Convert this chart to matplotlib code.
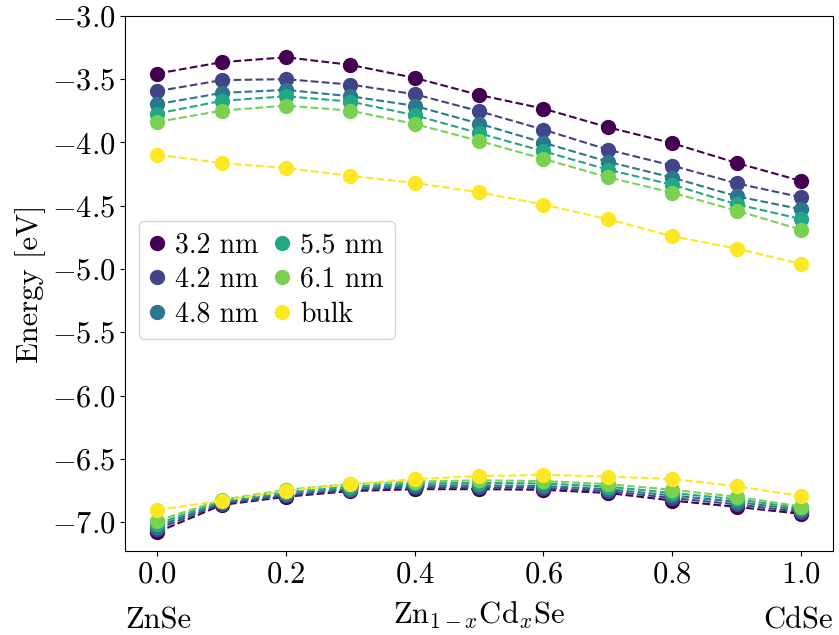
import numpy as np
import matplotlib
matplotlib.use("Agg")
import matplotlib.pyplot as plt

plt.rcParams['font.family'] = 'serif'
plt.rcParams['font.serif'] = ['cmr10']
plt.rcParams['mathtext.fontset'] = 'cm'
plt.rcParams['axes.formatter.use_mathtext'] = True
plt.rcParams['font.size'] = 22

x = [0.0, 0.1, 0.2, 0.3, 0.4, 0.5, 0.6, 0.7, 0.8, 0.9, 1.0]
labels = ['3.2 nm', '4.2 nm', '4.8 nm', '5.5 nm', '6.1 nm', 'bulk']
yticks = [-7.0, -6.5, -6.0, -5.5, -5.0, -4.5, -4.0, -3.5, -3.0]

# conduction band edge (upper curves)
cb_32 = [-3.456, -3.366, -3.327, -3.387, -3.49, -3.625, -3.733, -3.88, -4.006, -4.162, -4.304]
cb_42 = [-3.595, -3.508, -3.50, -3.543, -3.619, -3.753, -3.899, -4.057, -4.183, -4.323, -4.433]
cb_48 = [-3.698, -3.609, -3.585, -3.635, -3.711, -3.851, -4.002, -4.152, -4.278, -4.425, -4.528]
cb_55 = [-3.772, -3.672, -3.635, -3.677, -3.785, -3.927, -4.07, -4.215, -4.334, -4.489, -4.605]
cb_61 = [-3.838, -3.749, -3.709, -3.749, -3.854, -3.988, -4.13, -4.275, -4.397, -4.539, -4.689]
cb_bulk = [-4.096, -4.164, -4.202, -4.265, -4.32, -4.394, -4.491, -4.607, -4.741, -4.839, -4.96]

# valence band edge (lower curves)
vb_32 = [-7.08, -6.865, -6.80, -6.755, -6.74, -6.74, -6.745, -6.77, -6.83, -6.88, -6.935]
vb_42 = [-7.055, -6.855, -6.79, -6.745, -6.725, -6.725, -6.73, -6.755, -6.81, -6.86, -6.92]
vb_48 = [-7.035, -6.845, -6.78, -6.735, -6.71, -6.71, -6.715, -6.74, -6.79, -6.84, -6.905]
vb_55 = [-7.015, -6.835, -6.765, -6.72, -6.695, -6.69, -6.695, -6.72, -6.77, -6.82, -6.89]
vb_61 = [-6.99, -6.825, -6.745, -6.70, -6.68, -6.67, -6.676, -6.70, -6.745, -6.80, -6.877]
vb_bulk = [-6.905, -6.83, -6.755, -6.70, -6.66, -6.637, -6.626, -6.64, -6.66, -6.716, -6.795]

cb = [cb_32, cb_42, cb_48, cb_55, cb_61, cb_bulk]
vb = [vb_32, vb_42, vb_48, vb_55, vb_61, vb_bulk]
colors = plt.cm.viridis(np.linspace(0, 1, 6))

fig, ax = plt.subplots(figsize=(8.39, 6.35), dpi=100)
fig.subplots_adjust(left=0.149, right=0.993, top=0.975, bottom=0.132)

for c_e, v_e, col, lab in zip(cb, vb, colors, labels):
    ax.plot(x, c_e, '--', color=col, lw=1.5)
    ax.plot(x, v_e, '--', color=col, lw=1.5)
    ax.plot(x, c_e, 'o', color=col, ms=10, label=lab)
    ax.plot(x, v_e, 'o', color=col, ms=10)

ax.set_ylim(-7.23, -3.0)
ax.set_xlim(-0.05, 1.05)
ax.set_xticks([0.0, 0.2, 0.4, 0.6, 0.8, 1.0])
ax.set_yticks(yticks)
ax.set_ylabel('Energy [eV]', labelpad=4)

ax.text(0.0, -0.13, 'ZnSe', transform=ax.transAxes, ha='left', va='center')
ax.text(0.5, -0.12, r'Zn$_{1-x}$Cd$_x$Se', transform=ax.transAxes, ha='center', va='center')
ax.text(1.0, -0.13, 'CdSe', transform=ax.transAxes, ha='right', va='center')

ax.legend(ncol=2, loc='center left', bbox_to_anchor=(0.0, 0.507), fontsize=20,
          handlelength=0.5, handletextpad=0.4, columnspacing=0.6,
          labelspacing=0.3, borderpad=0.4)

fig.savefig('out.png', dpi=100)
